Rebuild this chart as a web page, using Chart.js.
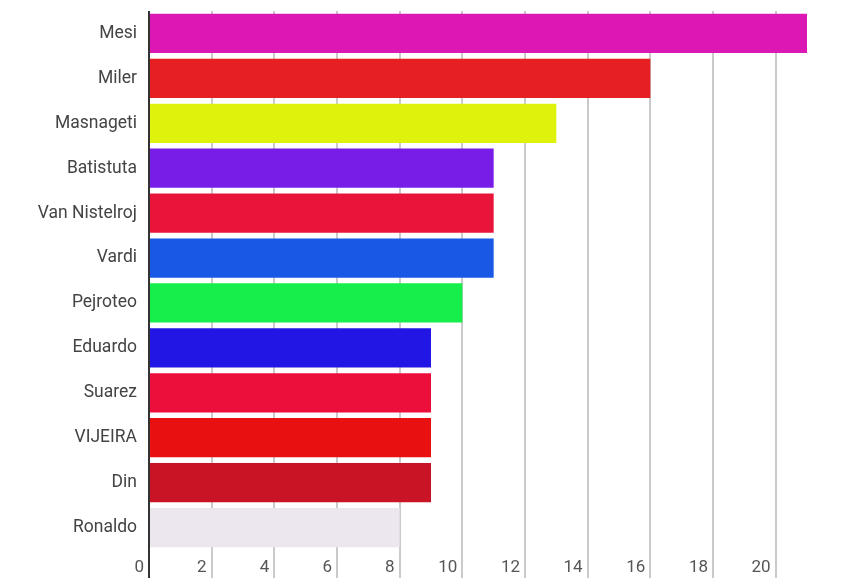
<!DOCTYPE html>
<html>
<head>
<meta charset="utf-8">
<script src="https://cdn.jsdelivr.net/npm/chart.js@4/dist/chart.umd.min.js"></script>
<style>
  html, body { margin: 0; padding: 0; background: #fff; }
  #wrap { width: 860px; height: 586px; }
</style>
</head>
<body>
<div id="wrap"><canvas id="myChart"></canvas></div>
<script>
var players = ["Mesi", "Miler", "Masnageti", "Batistuta", "Van Nistelroj", "Vardi",
               "Pejroteo", "Eduardo", "Suarez", "VIJEIRA", "Din", "Ronaldo"];
var goals = [21, 16, 13, 11, 11, 11, 10, 9, 9, 9, 9, 8];
var barColors = ["#dc18b4", "#e51f22", "#dff20c", "#781de8", "#e8143a", "#1858e4",
                 "#16ee4c", "#2216e4", "#ec0f3c", "#e81010", "#c81424", "#ece6ee"];

new Chart("myChart", {
    type: "bar",
    data: {
        labels: players,
        datasets: [{
            data: goals,
            backgroundColor: barColors,
            borderWidth: 0,
            categoryPercentage: 1,
            barPercentage: 0.875
        }]
    },
    options: {
        indexAxis: "y",
        responsive: true,
        maintainAspectRatio: false,
        animation: false,
        layout: { padding: { left: 0, right: 53, top: 11, bottom: 0 } },
        plugins: {
            legend: { display: false },
            tooltip: { enabled: false }
        },
        scales: {
            x: {
                min: 0,
                max: 21,
                border: { display: false },
                grid: {
                    color: function (ctx) { return ctx.tick && ctx.tick.value === 0 ? "#333" : "#cacaca"; },
                    lineWidth: 2,
                    drawTicks: true,
                    tickLength: 28
                },
                // labels sit inside the tick band, left of each grid line
                afterFit: function (scale) { scale.height = 36; },
                ticks: {
                    stepSize: 2,
                    includeBounds: false,
                    align: "end",
                    labelOffset: -5,
                    padding: -20,
                    color: "#555",
                    font: { family: "Roboto", size: 17 }
                }
            },
            y: {
                border: { display: false },
                grid: { display: false, drawTicks: false },
                afterFit: function (scale) {
                    scale.width = 149;
                    scale.paddingTop = 0;
                    scale.paddingBottom = 0;
                },
                ticks: {
                    padding: 12,
                    color: "#444",
                    font: { family: "Roboto", size: 17.5 }
                }
            }
        }
    }
});
</script>
</body>
</html>
